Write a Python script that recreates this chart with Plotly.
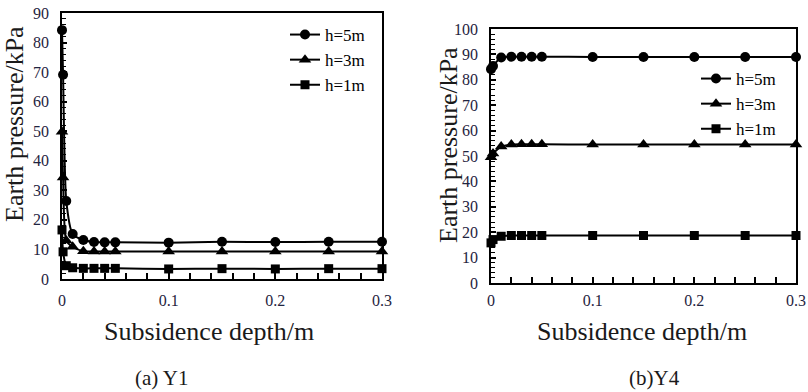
import plotly.graph_objects as go

# ---- data: (a) Y1 ----
x_y1 = [0, 0.001, 0.004, 0.01, 0.02, 0.03, 0.04, 0.05, 0.1, 0.15, 0.2, 0.25, 0.3]
y1_h5 = [84.2, 69.1, 26.4, 15.2, 13.2, 12.5, 12.4, 12.4, 12.3, 12.6, 12.5, 12.6, 12.6]
y1_h3 = [49.8, 34.3, 13.0, 10.9, 9.4, 9.3, 9.3, 9.3, 9.3, 9.3, 9.3, 9.3, 9.3]
y1_h1 = [16.6, 9.2, 4.5, 3.8, 3.6, 3.6, 3.6, 3.6, 3.4, 3.5, 3.4, 3.5, 3.5]

# ---- data: (b) Y4 ----
x_y4 = [0, 0.002, 0.01, 0.02, 0.03, 0.04, 0.05, 0.1, 0.15, 0.2, 0.25, 0.3]
y4_h5 = [84.2, 85.4, 88.8, 89.1, 89.1, 89.1, 89.1, 89.0, 89.0, 89.0, 89.0, 89.0]
y4_h3 = [49.5, 51.0, 53.7, 54.5, 54.6, 54.6, 54.6, 54.5, 54.5, 54.5, 54.5, 54.5]
y4_h1 = [15.8, 17.1, 18.4, 18.7, 18.7, 18.7, 18.7, 18.7, 18.7, 18.7, 18.7, 18.7]

series_names = ["h=5m", "h=3m", "h=1m"]
symbols = ["circle", "triangle-up", "square"]
msizes = [10, 11, 9]

x_ticks = [0, 0.1, 0.2, 0.3]
x_ticklabels = ["0", "0.1", "0.2", "0.3"]
caption_a = "(a) Y1"
caption_b = "(b)Y4"
x_title = "Subsidence depth/m"
y_title = "Earth pressure/kPa"

W, H = 808, 392
SERIF = "Liberation Serif"

fig = go.Figure()

def add_series(xs, ys_list, xa, ya, legend):
    for name, ys, sym, ms in zip(series_names, ys_list, symbols, msizes):
        fig.add_trace(go.Scatter(
            x=xs, y=ys, name=name, mode="lines+markers",
            xaxis=xa, yaxis=ya, legend=legend,
            line=dict(color="black", width=2, shape="spline", smoothing=0.6),
            marker=dict(symbol=sym, size=ms, color="black"),
            cliponaxis=False,
        ))

add_series(x_y1, [y1_h5, y1_h3, y1_h1], "x", "y", "legend")
add_series(x_y4, [y4_h5, y4_h3, y4_h1], "x2", "y2", "legend2")

def px_x(p):
    return p / W

def px_y(p):
    return 1 - p / H

tickfont = dict(family=SERIF, size=16, color="#1f2440")

def xaxis(domain, anchor, standoff):
    return dict(
        domain=domain, anchor=anchor, range=[0, 0.3],
        tickvals=x_ticks, ticktext=x_ticklabels,
        ticks="inside", ticklen=6, tickwidth=1.5, tickcolor="black",
        minor=dict(dtick=0.02, tick0=0, ticks="inside", ticklen=6, tickwidth=1.5, tickcolor="black"),
        showline=True, linecolor="black", linewidth=1.5, mirror=True,
        showgrid=False, zeroline=False, tickfont=tickfont,
        ticklabelstandoff=standoff, automargin=False,
    )

def yaxis(domain, anchor, rng, dtick):
    return dict(
        domain=domain, anchor=anchor, range=rng, dtick=dtick, tick0=0,
        ticks="inside", ticklen=5, tickwidth=1.5, tickcolor="black",
        minor=dict(dtick=2, tick0=0, ticks="inside", ticklen=4, tickwidth=1.2, tickcolor="black"),
        showline=True, linecolor="black", linewidth=1.5, mirror=True,
        showgrid=False, zeroline=False, tickfont=tickfont,
        ticklabelstandoff=8, automargin=False,
    )

legend_font = dict(family=SERIF, size=17, color="black")

fig.update_layout(
    width=W, height=H,
    font=dict(family=SERIF, color="black"),
    margin=dict(l=0, r=0, t=0, b=0, autoexpand=False),
    paper_bgcolor="white", plot_bgcolor="white",
    xaxis=xaxis([px_x(62), px_x(382)], "y", 6),
    yaxis=yaxis([px_y(279), px_y(13)], "x", [0, 90], 10),
    xaxis2=xaxis([px_x(491), px_x(796)], "y2", 2),
    yaxis2=yaxis([px_y(283), px_y(29)], "x2", [0, 100], 10),
    legend=dict(x=px_x(285), y=px_y(17), xanchor="left", yanchor="top",
                font=legend_font, bgcolor="rgba(0,0,0,0)", tracegroupgap=0,
                itemwidth=30),
    legend2=dict(x=px_x(696), y=px_y(61), xanchor="left", yanchor="top",
                 font=legend_font, bgcolor="rgba(0,0,0,0)", tracegroupgap=0,
                 itemwidth=30),
    showlegend=True,
)

ann_font_title = dict(family=SERIF, size=26, color="#1a1a1a")
ann_font_cap = dict(family=SERIF, size=21, color="#1a1a1a")
annotations = [
    dict(text=x_title, x=px_x(209), y=px_y(331), font=ann_font_title),
    dict(text=x_title, x=px_x(642), y=px_y(331), font=ann_font_title),
    dict(text=y_title, x=px_x(14), y=px_y(124), font=ann_font_title, textangle=-90),
    dict(text=y_title, x=px_x(448), y=px_y(145), font=ann_font_title, textangle=-90),
    dict(text=caption_a, x=px_x(161), y=px_y(378), font=ann_font_cap),
    dict(text=caption_b, x=px_x(654), y=px_y(378), font=ann_font_cap),
]
for a in annotations:
    a.update(xref="paper", yref="paper", showarrow=False, xanchor="center", yanchor="middle")
fig.update_layout(annotations=annotations)

fig.write_html("out.html", config={"displayModeBar": False},
               post_script="document.body.style.margin='0';")
